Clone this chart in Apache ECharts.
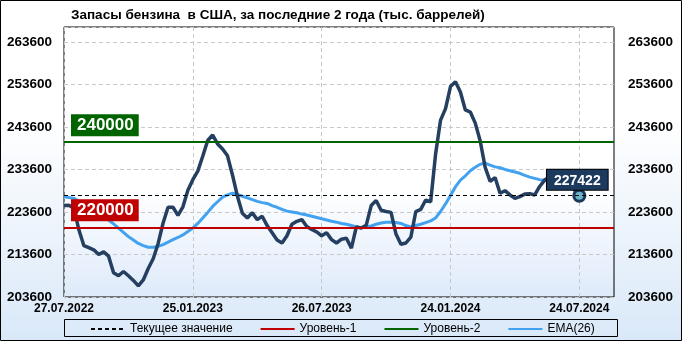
<!DOCTYPE html>
<html><head><meta charset="utf-8">
<script src="https://cdn.jsdelivr.net/npm/echarts@6/dist/echarts.min.js"></script>
<style>html,body{margin:0;padding:0;}#c{width:682px;height:341px;background:linear-gradient(to bottom,#ffffff 0%,#ffffff 35%,#d9e8f8 100%);}</style>
</head><body><div id="c"></div>
<script>
// ---- data ----
const titleText = 'Запасы бензина  в США, за последние 2 года (тыс. баррелей)';
const xTickLabels = ['27.07.2022', '25.01.2023', '26.07.2023', '24.01.2024', '24.07.2024'];
const tickStep = 26;          // weeks between x labels
const totalSlots = 112;       // weekly slots on the axis
const stocks = [
  225100, 225200, 224500, 219400, 215700, 215200, 214700, 213600, 214200, 213200,
  209300, 208600, 209600, 208600, 207500, 206200, 207600, 210300, 212600, 216200,
  221000, 224700, 224700, 222800, 224800, 228700, 231200, 233200, 236700, 240400,
  241700, 239600, 238400, 236800, 232300, 227300, 223300, 222200, 223400, 221800,
  222600, 220400, 218700, 217000, 216300, 218000, 220700, 221400, 221800, 220200,
  219500, 218900, 218000, 218700, 217100, 216300, 217200, 217400, 215100, 220100,
  219800, 220500, 225100, 226300, 224000, 223700, 223500, 218400, 216000, 216300,
  217700, 223700, 224200, 226400, 226000, 237300, 245200, 247900, 253100, 254200,
  251800, 247600, 247100, 244500, 240300, 234100, 230800, 231700, 228000, 228600,
  227600, 226800, 227200, 227800, 227900, 227600, 229600, 231100, 231800, 232100,
  231800, 231400, 230000, 228800, 227422
];
const ema26 = [
  227200, 227000, 226800, 226100, 225500, 224900, 224200, 223500, 222800, 221700,
  220800, 219800, 218800, 217800, 217000, 216200, 215700, 215300, 215300, 215500,
  215900, 216500, 217100, 217600, 218200, 219000, 219800, 220900, 222200, 223500,
  224900, 226000, 227100, 227600, 228000, 227700, 227300, 226900, 226500, 226100,
  225800, 225600, 225100, 224700, 224200, 223800, 223600, 223400, 223100, 222900,
  222600, 222300, 222000, 221700, 221400, 221200, 220900, 220700, 220400, 220100,
  219900, 220100, 220300, 220700, 221000, 221200, 221200, 221100, 220900, 220400,
  220100, 220400, 220700, 221100, 221500, 222200, 223700, 225500, 227500, 229500,
  231100, 232100, 233300, 234100, 234800, 235100, 234600, 234200, 234000, 233600,
  233300, 233000, 232700, 232200, 231800, 231500, 231200, 231100, 231000, 230900,
  230800, 230800, 230700, 230700, 230600
];
const level1 = 220000;
const level2 = 240000;
const yMin = 203600, yMax = 267100, yStep = 10000;
const legendNames = ['Текущее значение', 'Уровень-1', 'Уровень-2', 'EMA(26)'];

// ---- build ----
const FONT = 'Liberation Sans, Arial, sans-serif';
const cats = Array.from({length: totalSlots}, (_, i) => String(i));
const labelAt = i => (i % tickStep === 0 && xTickLabels[i / tickStep]) ? xTickLabels[i / tickStep] : '';
const showAt = i => labelAt(i) !== '';
const lastIdx = stocks.length - 1;
const lastVal = stocks[lastIdx];

const stockData = stocks.map((v, i) => i === lastIdx ? {
  value: v, symbol: 'circle', symbolSize: 11,
  itemStyle: {color: '#66b6c9', borderColor: '#1d3557', borderWidth: 3},
  label: {
    show: true, position: 'top', distance: 0, offset: [-2, 1],
    formatter: String(v), color: '#fff', fontWeight: 'bold', fontSize: 14, fontFamily: FONT,
    backgroundColor: '#1c3a5e', borderColor: '#000', borderWidth: 1, padding: [4, 7, 2, 7]
  }
} : {value: v, symbol: 'none'});

const levelLabel = (val, col) => ({
  yAxis: val,
  label: {
    show: true, formatter: String(val), position: 'insideStartTop', distance: [7, 6],
    color: '#fff', fontWeight: 'bold', fontSize: 17, fontFamily: FONT,
    backgroundColor: col, padding: [3, 5, 2, 6]
  }
});

const plainNum = v => String(Math.round(v));

const chart = echarts.init(document.getElementById('c'));
chart.setOption({
  animation: false,
  textStyle: {fontFamily: FONT},
  title: {text: titleText, left: 66, top: 3,
    textStyle: {fontSize: 13.5, fontWeight: 'bold', color: '#000', fontFamily: FONT}},
  grid: {left: 64, right: 68, top: 27, bottom: 44, show: true, borderColor: '#000', borderWidth: 1,
    backgroundColor: new echarts.graphic.LinearGradient(0, 0, 0, 1, [
      {offset: 0, color: '#ffffff'}, {offset: 0.6, color: '#ffffff'}, {offset: 1, color: '#deeafa'}])},
  legend: {data: legendNames, left: 90, top: 323, padding: 0, itemGap: 27, itemWidth: 34, itemHeight: 10,
    itemStyle: {opacity: 0},
    textStyle: {fontSize: 12, color: '#000', fontFamily: FONT}, selectedMode: false},
  graphic: [
    {type: 'rect', shape: {x: 0.5, y: 0.5, width: 681, height: 340}, style: {fill: 'none', stroke: '#000', lineWidth: 1}, silent: true},
    {type: 'rect', shape: {x: 64.5, y: 319.5, width: 553, height: 17}, style: {fill: 'none', stroke: '#000', lineWidth: 1}, silent: true}
  ],
  xAxis: {
    type: 'category', data: cats, boundaryGap: false,
    axisLine: {show: false}, axisTick: {show: false},
    axisLabel: {interval: (i) => showAt(i), formatter: (v, i) => labelAt(i), margin: 6,
      fontWeight: 'bold', fontSize: 12, color: '#000', fontFamily: FONT},
    splitLine: {show: true, interval: (i) => showAt(i), lineStyle: {color: '#c8c8c8', type: [4, 3]}}
  },
  yAxis: [
    {type: 'value', min: yMin, max: yMax, interval: yStep, position: 'left',
      axisLine: {show: false}, axisTick: {show: false},
      axisLabel: {showMaxLabel: false, margin: 12, formatter: plainNum, fontWeight: 'bold', fontSize: 13.5, color: '#000', fontFamily: FONT},
      splitLine: {lineStyle: {color: '#c8c8c8', type: [4, 3]}}},
    {type: 'value', min: yMin, max: yMax, interval: yStep, position: 'right',
      axisLine: {show: false}, axisTick: {show: false},
      axisLabel: {showMaxLabel: false, margin: 14, formatter: plainNum, fontWeight: 'bold', fontSize: 13.5, color: '#000', fontFamily: FONT},
      splitLine: {show: false}}
  ],
  series: [
    {name: 'Текущее значение', type: 'line', data: [], symbol: 'none', z: 2,
      lineStyle: {color: '#000', width: 1, type: [4, 3]}, itemStyle: {color: '#000'},
      markLine: {silent: true, symbol: ['none', 'none'], label: {show: false},
        lineStyle: {color: '#000', width: 1, type: [4, 3]}, data: [{yAxis: lastVal}]}},
    {name: 'Уровень-1', type: 'line', data: [], symbol: 'none', z: 2,
      lineStyle: {color: '#c00000', width: 2.5}, itemStyle: {color: '#c00000'},
      markLine: {silent: true, symbol: ['none', 'none'], label: {show: false},
        lineStyle: {color: '#c00000', width: 2, type: 'solid'}, data: [{yAxis: level1}]}},
    {name: 'Уровень-2', type: 'line', data: [], symbol: 'none', z: 2,
      lineStyle: {color: '#006400', width: 2.5}, itemStyle: {color: '#006400'},
      markLine: {silent: true, symbol: ['none', 'none'], label: {show: false},
        lineStyle: {color: '#006400', width: 2, type: 'solid'}, data: [{yAxis: level2}]}},
    {name: 'EMA(26)', type: 'line', data: ema26, symbol: 'none', z: 3,
      lineStyle: {color: '#42a2f0', width: 3}, itemStyle: {color: '#42a2f0'}},
    {name: 'Запасы', type: 'line', data: stockData, symbol: 'none', showSymbol: true, showAllSymbol: true, z: 4,
      lineStyle: {color: '#243f60', width: 3.5}, itemStyle: {color: '#243f60'}},
    {name: 'levelLabels', type: 'line', data: [], symbol: 'none', z: 10,
      markLine: {silent: true, symbol: ['none', 'none'], lineStyle: {color: 'rgba(0,0,0,0)', width: 0},
        data: [levelLabel(level2, '#006400'), levelLabel(level1, '#c00000')]}}
  ]
});
</script></body></html>
